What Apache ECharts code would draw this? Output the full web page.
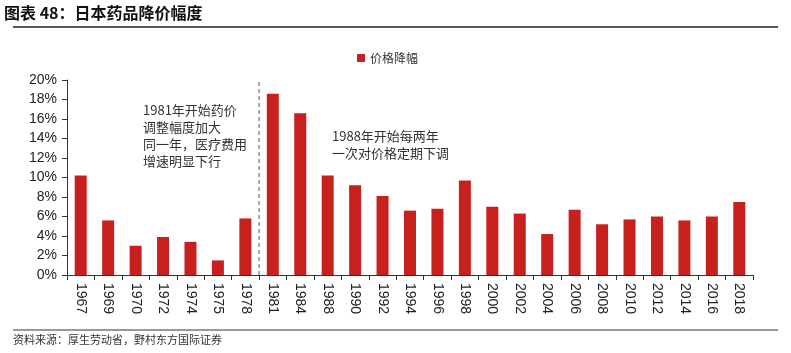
<!DOCTYPE html>
<html>
<head>
<meta charset="utf-8">
<script src="https://cdn.jsdelivr.net/npm/echarts@6/dist/echarts.min.js"></script>
<style>
html,body{margin:0;padding:0;background:#fff;}
#c{width:791px;height:353px;}
</style>
</head>
<body>
<div id="c"></div>
<script>
const categories = ['1967','1969','1970','1972','1974','1975','1978','1981','1984','1988','1990','1992','1994','1996','1998','2000','2002','2004','2006','2008','2010','2012','2014','2016','2018'];
const priceCut = [10.2,5.6,3.0,3.9,3.4,1.5,5.8,18.6,16.6,10.2,9.2,8.1,6.6,6.8,9.7,7.0,6.3,4.2,6.7,5.2,5.7,6.0,5.6,6.0,7.5];
const seriesName = '价格降幅';
const yTicks = {min: 0, max: 20, interval: 2};
const dividerIndex = categories.indexOf('1981');
const dividerTop = 19.8;
const note1 = '1981年开始药价\n调整幅度加大\n同一年，医疗费用\n增速明显下行';
const note2 = '1988年开始每两年\n一次对价格定期下调';
const titleText = '图表 48：日本药品降价幅度';
const sourceText = '资料来源：厚生劳动省，野村东方国际证券';

const chart = echarts.init(document.getElementById('c'), null, {renderer: 'canvas'});
const cjk = '"Noto Sans CJK SC", sans-serif';
const latin = '"Liberation Sans", Arial, sans-serif';
chart.setOption({
  animation: false,
  backgroundColor: '#fff',
  grid: {left: 67, right: 38, top: 80, bottom: 78, containLabel: false},
  legend: {
    data: [seriesName], left: 352, top: 47, itemWidth: 8, itemHeight: 8, itemGap: 4,
    icon: 'rect',
    textStyle: {fontFamily: cjk, fontSize: 12, color: '#333'}
  },
  xAxis: [{
    type: 'category', data: categories,
    axisLine: {lineStyle: {color: '#333', width: 1}},
    axisTick: {show: true, length: 5, lineStyle: {color: '#333'}},
    axisLabel: {rotate: -90, fontFamily: latin, fontSize: 14, color: '#222', margin: 8, interval: 0}
  }, {
    type: 'value', min: 0, max: categories.length, show: false
  }],
  yAxis: {
    type: 'value', min: yTicks.min, max: yTicks.max, interval: yTicks.interval,
    axisLine: {show: true, lineStyle: {color: '#333'}},
    axisTick: {show: true, length: 5, lineStyle: {color: '#333'}},
    splitLine: {show: false},
    axisLabel: {formatter: '{value}%', fontFamily: latin, fontSize: 14, color: '#222', margin: 10}
  },
  series: [{
    name: seriesName, type: 'bar', data: priceCut, barWidth: 12,
    itemStyle: {color: '#C8201F'}
  }, {
    type: 'line', xAxisIndex: 1, data: [[dividerIndex, 0], [dividerIndex, dividerTop]],
    symbol: 'none', silent: true,
    lineStyle: {color: '#555', width: 1, type: [4, 3]}
  }],
  graphic: [
    {type: 'text', left: 4, top: 5, style: {text: titleText, font: 'bold 16px ' + cjk, fill: '#111'}},
    {type: 'line', shape: {x1: 13, y1: 27, x2: 778, y2: 27}, style: {stroke: '#222', lineWidth: 1.5}},
    {type: 'line', shape: {x1: 13, y1: 330, x2: 778, y2: 330}, style: {stroke: '#777', lineWidth: 1.5}},
    {type: 'text', left: 13, top: 334, style: {text: sourceText, font: '11px ' + cjk, fill: '#333'}},
    {type: 'text', left: 143, top: 102, style: {text: note1, font: '13px ' + cjk, fill: '#333', lineHeight: 17}},
    {type: 'text', left: 332, top: 128, style: {text: note2, font: '13px ' + cjk, fill: '#333', lineHeight: 17}}
  ]
});
</script>
</body>
</html>
